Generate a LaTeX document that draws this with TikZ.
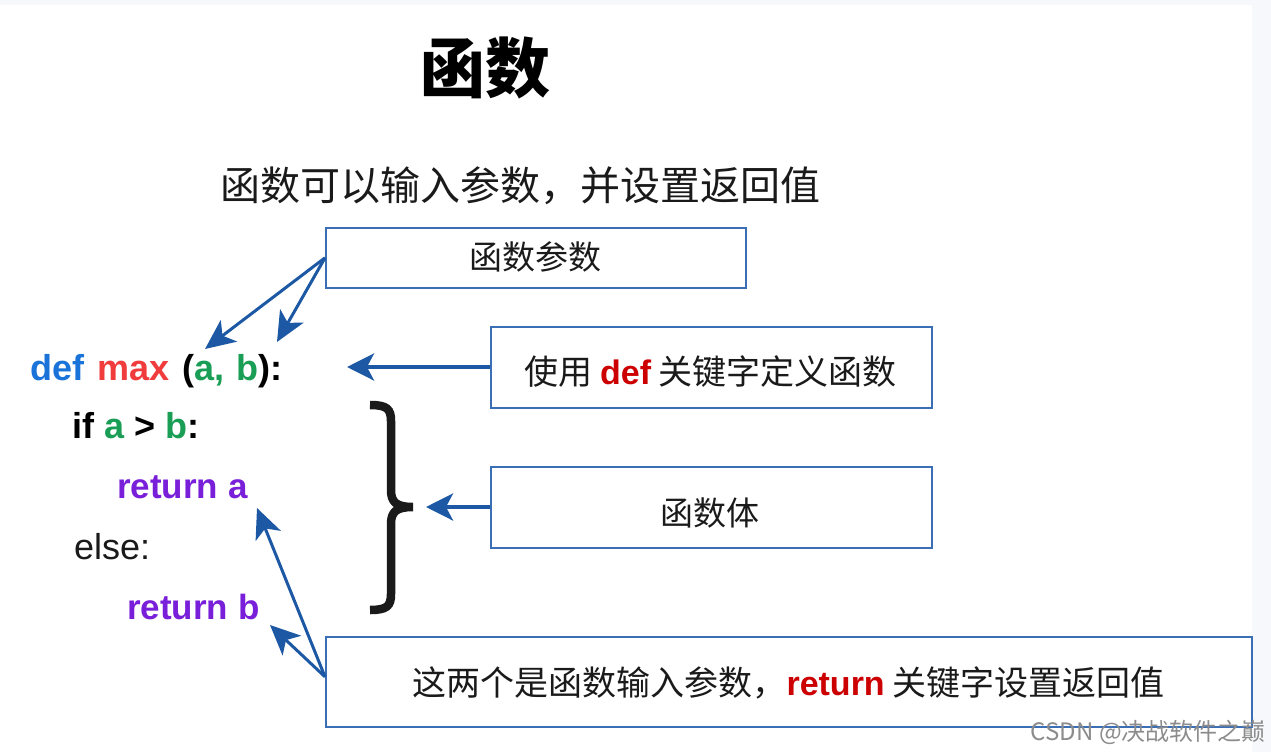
\documentclass[tikz,border=0pt]{standalone}
\usepackage{fontspec}
\setmainfont{Liberation Sans}
\newfontfamily\cjk{Noto Sans CJK SC}
\usetikzlibrary{arrows.meta}
\definecolor{bordblue}{HTML}{3A6FB5}
\definecolor{arrblue}{HTML}{1D58A4}
\definecolor{kwblue}{HTML}{1A73D9}
\definecolor{kwred}{HTML}{F03C3C}
\definecolor{kwgreen}{HTML}{1A9E55}
\definecolor{kwpurple}{HTML}{7A1FD9}
\definecolor{boxred}{HTML}{CC0000}
\definecolor{txtdark}{HTML}{1A1A1A}
\definecolor{stripgray}{HTML}{F7F8FB}
\begin{document}
\begin{tikzpicture}[x=1pt,y=-1pt,
  infobox/.style={draw=bordblue,line width=1.6pt,inner sep=0pt,anchor=north west},
  boxtext/.style={font=\cjk\fontsize{33}{36}\selectfont,text=txtdark},
  boxtextw/.style={font=\cjk\fontsize{34}{37}\selectfont,text=txtdark,anchor=west},
  codeline/.style={anchor=base west,inner sep=0pt,font=\bfseries\fontsize{36}{40}\selectfont},
  conn/.style={draw=arrblue,line width=3pt,-{Stealth[length=30pt,width=27pt,inset=8pt]}},
  connthick/.style={draw=arrblue,line width=4pt,-{Stealth[length=27pt,width=27pt,inset=7pt]}}
]
\useasboundingbox (0,0) rectangle (1271,752);
\fill[stripgray] (0,0) rectangle (1271,5);
\fill[stripgray] (1252,0) rectangle (1271,752);

% title and subtitle
\node[font=\cjk\bfseries\fontsize{65}{70}\selectfont,text=black] (title) at (485,68) {函数};
\node[font=\cjk\fontsize{40}{44}\selectfont,text=txtdark] (sub) at (520,186) {函数可以输入参数，并设置返回值};

% boxes
\node[infobox,minimum width=420pt,minimum height=60pt] (b1) at (325,227) {};
\node[boxtext] (b1t) at (535,257) {函数参数};
\node[infobox,minimum width=441pt,minimum height=81pt] (b2) at (490,326) {};
\node[boxtextw] (b2t) at (521,372) {使用 {\rmfamily\bfseries\color{boxred}def} 关键字定义函数};
\node[infobox,minimum width=441pt,minimum height=81pt] (b3) at (490,466) {};
\node[boxtext] (b3t) at (710,513) {函数体};
\node[infobox,minimum width=926pt,minimum height=90pt] (b4) at (325,636) {};
\node[boxtextw] (b4t) at (409,683) {这两个是函数输入参数，{\rmfamily\bfseries\color{boxred}return} 关键字设置返回值};

% code
\node[codeline] (c1) at (30,380) {\color{kwblue}def\hspace{3pt} \color{kwred}max\hspace{3pt} \color{black}(\color{kwgreen}a,\hspace{2pt} b\color{black}):};
\node[codeline] (c2) at (72,438) {\color{black}if \color{kwgreen}a \color{black}> \color{kwgreen}b\color{black}:};
\node[codeline,text=kwpurple,font=\bfseries\fontsize{35}{40}\selectfont] (c3) at (117,498) {return a};
\node[codeline,font=\fontsize{36}{40}\selectfont,text=txtdark] (c4) at (74,559) {else:};
\node[codeline,text=kwpurple,font=\bfseries\fontsize{35}{40}\selectfont] (c5) at (127,619) {return b};

% brace
\draw[line width=8.5pt,txtdark]
  (370,405) .. controls (387,405) and (391,409) .. (391,421) -- (391,490)
  .. controls (391,502) and (396,507) .. (413,507)
  .. controls (396,507) and (391,512) .. (391,524) -- (391,594)
  .. controls (391,606) and (387,610) .. (370,610);
\coordinate (brtip) at (426,507);

% connector end points
\coordinate (pa) at (205,349);
\coordinate (pb) at (277,342);
\coordinate (ra) at (257,508);
\coordinate (rb) at (270,625);
\coordinate (defend) at (347,367);

\draw[conn] (b1.west) -- (pa);
\draw[conn] (b1.west) -- (pb);
\draw[connthick] (b2.west |- defend) -- (defend);
\draw[connthick] (b3.west |- brtip) -- (brtip);
\draw[conn] ([yshift=5pt]b4.west) -- (ra);
\draw[conn] ([yshift=5pt]b4.west) -- (rb);

% watermark
\node[anchor=base east,inner sep=0pt,text=black!45,font=\cjk\fontsize{24}{26}\selectfont] (wm) at (1266,740) {CSDN @决战软件之巅};
\end{tikzpicture}
\end{document}
